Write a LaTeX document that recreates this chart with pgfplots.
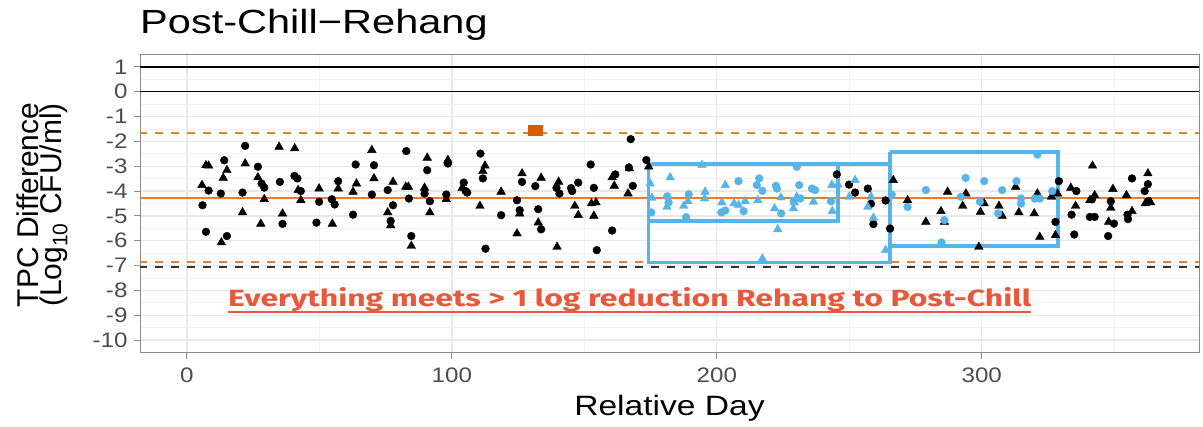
\documentclass[border=0pt]{standalone}
\usepackage{fontspec}
\setmainfont{Liberation Sans}[FakeStretch=1.15]
\newfontfamily\titlefont{Liberation Sans}[FakeStretch=1.24]
\newfontfamily\axtitlefont{Liberation Sans}[FakeStretch=1.2]
\newfontfamily\ylabfont{Liberation Sans}
\newfontfamily\annfont{Fira Sans}
\usepackage{pgfplots}
\pgfplotsset{compat=1.18}
\definecolor{myorange}{RGB}{230,126,50}
\definecolor{sqorange}{RGB}{213,94,0}
\definecolor{skyblue}{RGB}{86,180,233}
\definecolor{anncol}{RGB}{233,88,58}
\begin{document}
\begin{tikzpicture}
\useasboundingbox (0,0) rectangle (1203pt,427pt);
\begin{axis}[
  at={(140pt,74pt)}, anchor=south west,
  width=1059pt, height=298pt, scale only axis,
  xmin=-17.7, xmax=382, ymin=-10.52, ymax=1.48,
  xtick={0,100,200,300}, minor xtick={50,150,250,350},
  ytick={-10,-9,-8,-7,-6,-5,-4,-3,-2,-1,0,1},
  minor ytick={-10.5,-9.5,-8.5,-7.5,-6.5,-5.5,-4.5,-3.5,-2.5,-1.5,-0.5,0.5},
  grid=both,
  major grid style={color=black!9, line width=1.3pt},
  minor grid style={color=black!5, line width=0.7pt},
  axis line style={black!45, line width=1pt},
  tick style={black!45, line width=1pt},
  tick align=outside, major tick length=6pt, minor tick length=0pt,
  tick pos=left,
  /pgf/number format/assume math mode=true,
  ticklabel style={font=\fontsize{21}{21}\selectfont, text=black!70},
  yticklabel style={xshift=-3pt},
  xticklabel style={yshift=-5pt},
  clip=true,
]
% reference lines
\addplot[black, line width=1.3pt] coordinates {(-30,1) (400,1)};
\addplot[black, line width=1.3pt] coordinates {(-30,0) (400,0)};
\addplot[black!80, line width=2pt, dash pattern=on 7.5pt off 8.5pt] coordinates {(-30,-7.04) (400,-7.04)};
\addplot[myorange, line width=2pt, dash pattern=on 7.5pt off 8.5pt] coordinates {(-30,-1.65) (400,-1.65)};
\addplot[myorange, line width=2pt, dash pattern=on 7.5pt off 8.5pt] coordinates {(-30,-6.86) (400,-6.86)};
\addplot[myorange, line width=2pt] coordinates {(-30,-4.26) (400,-4.26)};
% black circles
\addplot[only marks, mark=*, mark size=3.9pt, black] coordinates {
(5.9,-4.57)(7.2,-5.64)(8.2,-3.98)(12.8,-4.10)(14.1,-2.76)(15.1,-5.81)(21.0,-4.06)(22.0,-2.18)
(26.8,-3.02)(28.2,-3.70)(29.2,-3.86)(35.1,-3.63)(36.1,-5.32)(40.6,-3.39)(41.7,-3.49)(43.0,-4.00)
(48.9,-5.27)(49.9,-4.43)(54.7,-4.33)(55.8,-4.54)(57.1,-3.60)(62.7,-4.95)(63.7,-2.93)(69.8,-4.14)
(70.6,-2.96)(75.8,-3.96)(76.9,-5.20)(77.8,-4.57)(82.8,-2.39)(83.8,-4.30)(84.7,-5.81)(89.7,-4.10)
(90.7,-3.16)(91.7,-4.41)(97.9,-4.14)(98.5,-2.89)(104.5,-3.66)(105.2,-4.00)(105.8,-4.06)(110.8,-2.49)
(111.7,-3.49)(112.7,-6.32)(118.6,-4.97)(124.6,-4.37)(125.6,-4.77)(126.5,-3.63)(131.5,-3.80)(132.6,-4.73)
(133.7,-5.54)(139.5,-3.87)(140.6,-4.10)(145.0,-3.88)(145.4,-4.00)(147.7,-3.66)(152.4,-2.93)(153.6,-3.87)
(154.7,-6.38)(160.5,-5.59)(161.7,-3.33)(166.8,-3.05)(167.5,-1.91)(168.3,-3.79)(173.4,-2.75)
(245.3,-3.33)(249.9,-3.74)(252.2,-4.06)(257.0,-3.90)(258.2,-4.51)(259.1,-5.33)(263.7,-4.38)(265.4,-5.51)
(327.8,-5.24)(329.1,-3.60)(333.9,-4.95)(334.9,-5.75)(335.7,-4.00)(340.8,-5.04)(341.6,-4.33)(342.6,-5.04)
(347.7,-5.81)(348.7,-4.41)(349.9,-5.31)(355.0,-4.95)(355.2,-5.13)(356.7,-3.49)(361.5,-4.00)(362.7,-3.72)
(362.9,-4.41)
};
% black triangles
\addplot[only marks, mark=triangle*, mark size=5pt, black] coordinates {
(5.7,-3.76)(7.2,-2.96)(8.2,-2.98)(13.0,-6.07)(13.7,-3.47)(15.1,-3.16)(21.0,-4.86)(22.0,-2.89)
(26.8,-3.45)(27.9,-5.32)(29.2,-4.33)(34.8,-2.22)(36.1,-4.91)(40.7,-2.28)(42.0,-3.96)(43.0,-4.37)
(49.9,-3.90)(54.9,-5.32)(57.1,-3.90)(62.7,-4.03)(64.0,-3.70)(69.8,-2.35)(70.6,-3.49)(75.8,-4.86)
(76.9,-5.38)(77.8,-3.63)(82.6,-3.83)(83.6,-3.83)(84.7,-6.21)(89.7,-3.87)(90.7,-2.66)(91.7,-4.86)
(97.9,-4.33)(98.5,-2.75)(103.9,-3.87)(110.6,-4.60)(111.7,-3.20)(112.5,-2.98)(118.6,-4.03)(124.6,-5.71)
(125.6,-4.91)(126.5,-3.29)(132.6,-5.27)(133.7,-3.47)(139.7,-6.25)(140.3,-3.63)(146.4,-4.60)(147.7,-4.97)
(152.7,-4.50)(153.6,-5.00)(154.4,-4.46)(160.5,-3.45)(161.3,-3.79)(166.5,-4.10)(167.0,-3.09)(174.3,-3.02)
(266.6,-3.56)(272.0,-4.37)(278.9,-5.24)(284.6,-4.81)(285.9,-5.24)(287.1,-4.03)(292.8,-4.60)(294.0,-4.10)
(298.9,-6.25)(299.5,-4.84)(300.9,-4.50)(306.5,-4.60)(307.7,-5.00)(312.8,-3.83)(314.0,-4.86)(319.8,-4.90)
(321.0,-4.10)(321.9,-5.85)(326.3,-4.23)(327.8,-5.78)(328.6,-4.10)(333.6,-3.87)(335.4,-4.60)(340.8,-4.37)
(341.8,-2.98)(342.6,-4.17)(347.9,-5.24)(348.7,-4.68)(349.5,-3.92)(354.6,-4.17)(356.7,-4.81)(361.7,-4.50)
(362.7,-3.29)(363.7,-4.46)
};
% blue circles
\addplot[only marks, mark=*, mark size=3.9pt, skyblue] coordinates {
(175.3,-4.86)(181.3,-4.21)(181.8,-4.46)(188.4,-5.05)(189.4,-4.13)(201.7,-4.86)(203.2,-4.78)
(208.2,-3.60)(210.1,-4.81)(215.1,-3.76)(216.0,-3.49)(217.2,-3.99)(222.3,-3.79)(222.7,-3.90)(224.3,-4.90)
(229.0,-4.41)(230.2,-3.02)(231.1,-3.76)(231.5,-4.30)(235.9,-3.90)(237.1,-3.96)(243.1,-4.41)
(266.0,-4.14)(272.0,-4.64)(278.9,-3.96)(284.8,-6.07)(285.9,-5.17)(292.1,-4.23)(293.9,-3.47)
(299.3,-4.43)(300.9,-3.60)(306.2,-4.90)(307.7,-3.96)(313.1,-3.60)(314.8,-4.30)(314.8,-4.50)
(320.0,-4.30)(321.0,-2.53)(321.9,-4.30)(326.6,-4.00)
};
% blue triangles
\addplot[only marks, mark=triangle*, mark size=5pt, skyblue] coordinates {
(174.9,-3.70)(175.5,-4.27)(182.4,-3.45)(181.2,-4.64)(187.5,-4.60)(189.1,-4.41)(194.4,-2.95)
(195.4,-4.30)(195.6,-4.03)(201.9,-4.46)(203.2,-3.76)(206.5,-4.50)(208.2,-4.57)(210.7,-4.41)
(215.5,-4.37)(217.2,-6.72)(221.8,-4.70)(223.0,-5.54)(224.2,-4.26)(228.9,-4.70)(229.3,-4.46)
(230.2,-4.23)(236.5,-4.43)(243.4,-3.76)(243.6,-4.81)(245.7,-3.74)(250.0,-4.23)(252.2,-3.56)
(257.0,-4.64)(258.2,-4.23)(259.1,-5.08)(263.7,-6.38)
};
% orange square
\addplot[only marks, mark=square*, mark size=4.5pt, sqorange, mark options={xscale=1.5,yscale=1.1}] coordinates {(131.5,-1.54)};
% highlight boxes
\addplot[skyblue, line width=3.5pt] coordinates {(174.3,-2.90)(245.7,-2.90)(245.7,-5.21)(174.3,-5.21)(174.3,-2.90)};
\addplot[skyblue, line width=3.5pt] coordinates {(174.3,-2.90)(265.3,-2.90)(265.3,-6.87)(174.3,-6.87)(174.3,-2.90)};
\addplot[skyblue, line width=3.5pt] coordinates {(265.3,-2.42)(328.7,-2.42)(328.7,-6.22)(265.3,-6.22)(265.3,-2.42)};
\end{axis}
% title and axis titles
\node[anchor=base west, inner sep=0pt] at (140pt,393.7pt) {\fontsize{33.5}{33.5}\selectfont\titlefont Post-Chill\char"2212 Rehang};
\node[anchor=base, inner sep=0pt] at (669.5pt,11pt) {\fontsize{28}{28}\selectfont\axtitlefont Relative Day};
\node[rotate=90, align=center, inner sep=0pt, anchor=center] at (42pt,222pt)
  {\fontsize{30}{33}\selectfont\ylabfont TPC Difference\\ \fontsize{30}{33}\selectfont\ylabfont (Log\textsubscript{10} CFU/ml)};
% annotation
\node[anchor=base west, inner sep=0pt, text=anncol] at (228pt,120pt)
  {\resizebox{803pt}{19pt}{\annfont\bfseries Everything meets > 1 log reduction Rehang to Post-Chill}};
\draw[anncol, line width=1.3pt] (228pt,115pt) -- (1031pt,115pt);
\end{tikzpicture}
\end{document}
